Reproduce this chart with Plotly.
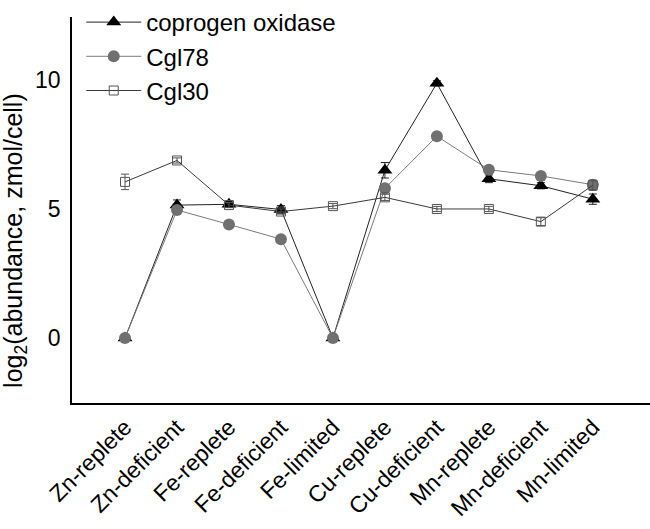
import plotly.graph_objects as go

categories = ["Zn-replete", "Zn-deficient", "Fe-replete", "Fe-deficient", "Fe-limited",
              "Cu-replete", "Cu-deficient", "Mn-replete", "Mn-deficient", "Mn-limited"]

coprogen = [0.0, 5.15, 5.18, 4.98, 0.0, 6.5, 9.87, 6.17, 5.9, 5.38]
coprogen_err = [0.05, 0.2, 0.12, 0.15, 0.05, 0.3, 0.1, 0.15, 0.12, 0.2]

cgl78 = [0.0, 4.96, 4.4, 3.83, 0.0, 5.8, 7.82, 6.52, 6.28, 5.94]
cgl78_err = [0.05, 0.05, 0.05, 0.05, 0.05, 0.05, 0.05, 0.1, 0.05, 0.1]

cgl30 = [6.05, 6.88, 5.15, 4.9, 5.11, 5.45, 5.0, 5.0, 4.51, 5.92]
cgl30_err = [0.3, 0.1, 0.1, 0.1, 0.1, 0.12, 0.1, 0.1, 0.15, 0.2]

y_title = "log<sub>2</sub>(abundance, zmol/cell)"

x_idx = list(range(len(categories)))

fig = go.Figure()
fig.add_trace(go.Scatter(
    x=x_idx, y=coprogen, name="coprogen oxidase", mode="lines+markers",
    line=dict(color="#222222", width=1),
    marker=dict(symbol="triangle-up", size=13, color="black"),
    error_y=dict(type="data", array=coprogen_err, color="#222222", thickness=1, width=4),
))
fig.add_trace(go.Scatter(
    x=x_idx, y=cgl78, name="Cgl78", mode="lines+markers",
    line=dict(color="#7a7a7a", width=1),
    marker=dict(symbol="circle", size=12, color="#707070"),
    error_y=dict(type="data", array=cgl78_err, color="#707070", thickness=1, width=4),
))
fig.add_trace(go.Scatter(
    x=x_idx, y=cgl30, name="Cgl30", mode="lines+markers",
    line=dict(color="#3a3a3a", width=1),
    marker=dict(symbol="square-open", size=9, color="#555555", line=dict(width=1)),
    error_y=dict(type="data", array=cgl30_err, color="#555555", thickness=1, width=4),
))

fig.add_annotation(
    text=y_title, xref="paper", yref="paper", x=-0.0986, y=0.42,
    xanchor="center", yanchor="middle", textangle=-90, showarrow=False,
    font=dict(size=25),
)

fig.update_layout(
    width=650, height=529,
    margin=dict(l=72, r=0, t=5, b=126),
    plot_bgcolor="white", paper_bgcolor="white",
    font=dict(family="Liberation Sans, Arial, sans-serif", color="black"),
    showlegend=True,
    legend=dict(x=0.016, y=1.045, xanchor="left", yanchor="top",
                font=dict(size=24), bgcolor="rgba(0,0,0,0)",
                itemwidth=55, tracegroupgap=0),
    xaxis=dict(
        tickmode="array", tickvals=x_idx, ticktext=categories,
        tickangle=-45, tickfont=dict(size=23), automargin=False,
        range=[-1.02, 10.1], showgrid=False, zeroline=False,
        showline=True, linecolor="black", linewidth=1.5, ticks="",
    ),
    yaxis=dict(
        tickvals=[0, 5, 10], tickfont=dict(size=23), automargin=False,
        range=[-2.52, 12.44], showgrid=False, zeroline=False,
        showline=True, linecolor="black", linewidth=1.5, ticks="",
        ticklabelstandoff=5,
    ),
)

fig.write_html("out.html", config={"displayModeBar": False},
               post_script="document.body.style.margin='0px';")
